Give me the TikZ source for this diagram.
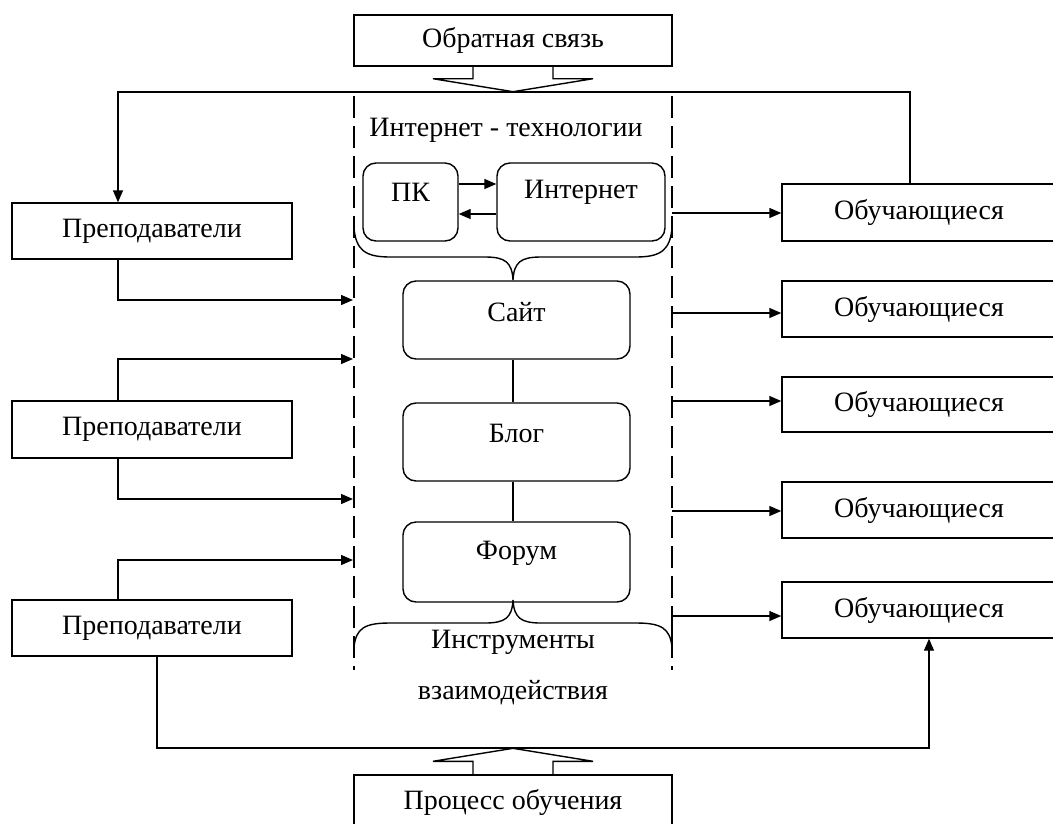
\documentclass[tikz,border=0pt]{standalone}
\usepackage{fontspec}
\setmainfont{Liberation Serif}
\usetikzlibrary{arrows.meta,calc}

\begin{document}
\begin{tikzpicture}[x=1pt,y=-1pt,
  line width=1.4pt,
  box/.style={draw, rectangle, inner sep=0pt, font=\fontsize{28}{31}\selectfont},
  rbox/.style={draw, rounded corners=13pt, inner sep=0pt},
  txt/.style={inner sep=0pt, font=\fontsize{28}{31}\selectfont},
  arr/.style={-{Triangle[length=12pt,width=10pt]}},
  dashline/.style={dash pattern=on 22pt off 8pt, line width=1.3pt},
]
\useasboundingbox (0,0) rectangle (1053,823);
\clip (0,0) rectangle (1053,823);

% --- feedback and learning-process boxes ---
\node[box, minimum width=318pt, minimum height=51pt] (fb) at (513,40.5) {Обратная связь};
\node[box, minimum width=318pt, minimum height=54pt] (pr) at (513,802) {Процесс обучения};

% flat arrow heads under / over the two boxes
\draw ($(fb.south)+(-40,0)$) -- ++(0,12) -- ++(-40,0) -- ($(fb.south)+(0,25)$)
      -- ($(fb.south)+(80,12)$) -- ++(-40,0) -- ++(0,-12);
\draw ($(pr.north)+(-40,0)$) -- ++(0,-13) -- ++(-40,0) -- ($(pr.north)+(0,-26)$)
      -- ($(pr.north)+(80,-13)$) -- ++(-40,0) -- ++(0,13);

% --- teachers ---
\node[box, minimum width=280pt, minimum height=56pt] (p1) at (152,231) {Преподаватели};
\node[box, minimum width=280pt, minimum height=57pt] (p2) at (152,429.5) {Преподаватели};
\node[box, minimum width=280pt, minimum height=56pt] (p3) at (152,628) {Преподаватели};

% --- learners ---
\node[box, minimum width=274pt, minimum height=57pt] (o1) at (919,212.5) {Обучающиеся};
\node[box, minimum width=274pt, minimum height=56pt] (o2) at (919,309) {Обучающиеся};
\node[box, minimum width=274pt, minimum height=55pt] (o3) at (919,404.5) {Обучающиеся};
\node[box, minimum width=274pt, minimum height=56pt] (o4) at (919,510) {Обучающиеся};
\node[box, minimum width=274pt, minimum height=56pt] (o5) at (919,610) {Обучающиеся};

% --- internet technologies block ---
\draw[dashline] (354,96) -- (354,670);
\draw[dashline] (672,96) -- (672,670);
\node[txt] (itT) at (506,130) {Интернет - технологии};

\node[rbox, minimum width=95pt, minimum height=78pt] (pk) at (410.5,202) {};
\node[txt] (pkT) at ($(pk.center)+(0,-10)$) {ПК};
\node[rbox, minimum width=168pt, minimum height=78pt] (inet) at (581,202) {};
\node[txt] (inetT) at ($(inet.center)+(0,-10)$) {Интернет};
\draw[arr] ($(pk.east)+(0,-18)$) -- ($(inet.west)+(0,-18)$);
\draw[arr] ($(inet.west)+(0,12)$) -- ($(pk.east)+(0,12)$);

% upper brace
\draw (354,228) .. controls (356,250) and (365,257) .. (390,257) -- (485,257)
      .. controls (505,257) and (512,262) .. (513,280)
      .. controls (514,262) and (521,257) .. (541,257) -- (636,257)
      .. controls (661,257) and (670,250) .. (672,228);

\coordinate (axis) at (513,0);
\node[rbox, minimum width=227pt, minimum height=78pt] (site) at (516.5,320) {};
\node[txt] (siteT) at ($(site.center)+(0,-8)$) {Сайт};
\node[rbox, minimum width=227pt, minimum height=78pt] (blog) at (516.5,442) {};
\node[txt] (blogT) at ($(blog.center)+(0,-9)$) {Блог};
\node[rbox, minimum width=227pt, minimum height=80pt] (forum) at (516.5,562) {};
\node[txt] (forumT) at ($(forum.center)+(0,-9)$) {Форум};
\draw (site.south -| axis) -- (blog.north -| axis);
\draw (blog.south -| axis) -- (forum.north -| axis);

% lower brace
\draw (354,647) .. controls (356,628) and (365,623) .. (390,623) -- (485,623)
      .. controls (505,623) and (512,618) .. (513,600)
      .. controls (514,618) and (521,623) .. (541,623) -- (636,623)
      .. controls (661,623) and (670,628) .. (672,647);
\node[txt] (toolsA) at (513,642) {Инструменты};
\node[txt] (toolsB) at (513,693) {взаимодействия};

% --- connectors: teachers into the block ---
\coordinate (l1) at (353,300);
\coordinate (l2) at (353,359);
\coordinate (l3) at (353,499);
\coordinate (l4) at (353,560);
\coordinate (tx) at (118,0);
\draw[arr] (p1.south -| tx) |- (l1);
\draw[arr] (p2.north -| tx) |- (l2);
\draw[arr] (p2.south -| tx) |- (l3);
\draw[arr] (p3.north -| tx) |- (l4);

% --- connectors: block to learners ---
\coordinate (r1) at (672,213);
\coordinate (r2) at (672,313);
\coordinate (r3) at (672,401);
\coordinate (r4) at (672,511);
\coordinate (r5) at (672,616);
\coordinate (b5) at (672,645);
\draw[arr] (r1) -- (r1 -| o1.west);
\draw[arr] (r2) -- (r2 -| o2.west);
\draw[arr] (r3) -- (r3 -| o3.west);
\draw[arr] (r4) -- (r4 -| o4.west);
\draw[arr] (b5) -- (r5) -- (r5 -| o5.west);

% --- feedback loop (top) and learning loop (bottom) ---
\coordinate (fbR) at (910,92);
\coordinate (fbL) at (118,92);
\draw[arr] (o1.north -| fbR) -- (fbR) -- (fbL) -- (fbL |- p1.north);
\coordinate (bL) at (157,748);
\coordinate (bR) at (929,748);
\draw[arr] (p3.south -| bL) -- (bL) -- (bR) -- (bR |- o5.south);
\end{tikzpicture}
\end{document}
